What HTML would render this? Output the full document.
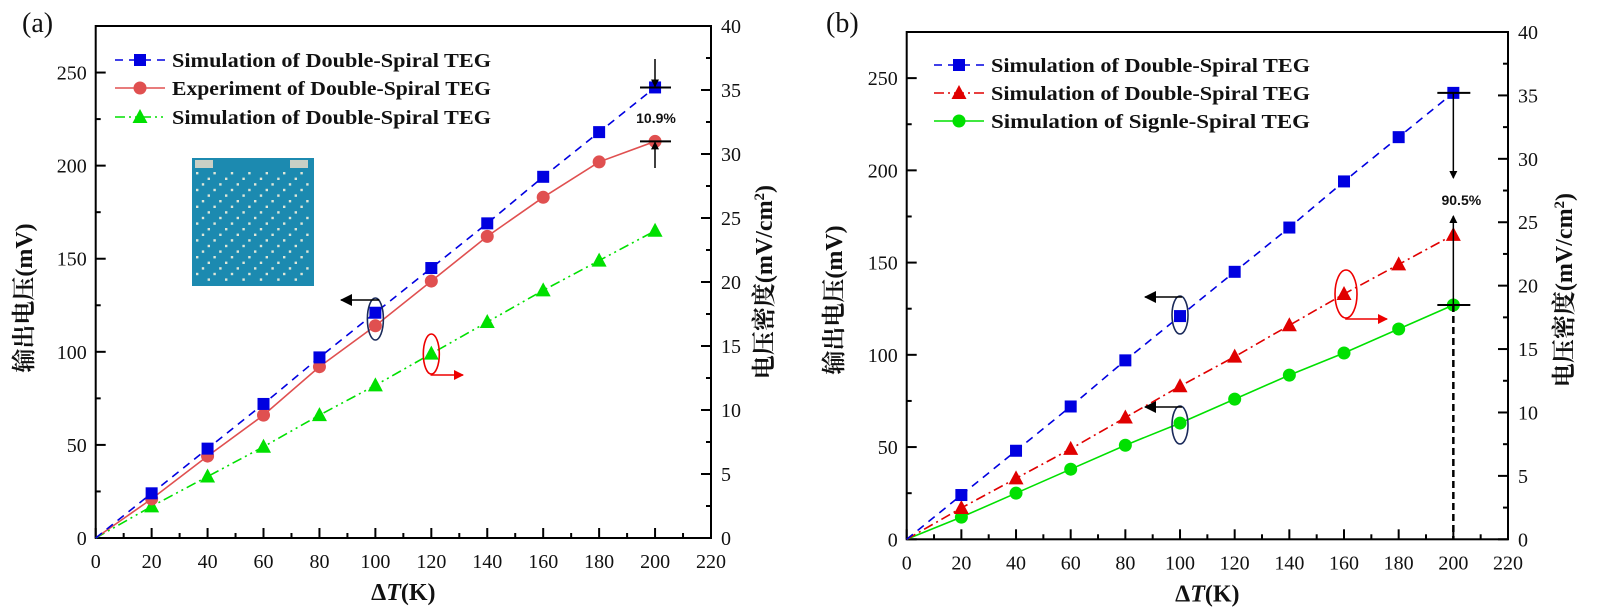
<!DOCTYPE html>
<html><head><meta charset="utf-8"><style>
body{margin:0;background:#fff;}
svg{display:block;}
.tk{font-family:"Liberation Serif",serif;font-size:20px;fill:#111;}
.lg{font-family:"Liberation Serif",serif;font-weight:bold;font-size:20px;fill:#111;}
.ttl{font-family:"Liberation Serif","Noto Serif CJK SC",serif;font-weight:bold;font-size:24px;fill:#111;}
.pct{font-family:"Liberation Sans",sans-serif;font-weight:bold;font-size:14px;fill:#111;}
</style></head><body>
<svg id="s" width="1600" height="613" viewBox="0 0 1600 613" xmlns="http://www.w3.org/2000/svg">
<defs>
<marker id="ah" markerWidth="8" markerHeight="8" refX="7" refY="4" orient="auto" markerUnits="userSpaceOnUse"><path d="M0,0 L8,4 L0,8 z" fill="#000"/></marker>
<marker id="ahr" markerWidth="10" markerHeight="10" refX="9" refY="5" orient="auto" markerUnits="userSpaceOnUse"><path d="M0,0 L10,5 L0,10 z" fill="#e00"/></marker>
<marker id="ahb" markerWidth="12" markerHeight="12" refX="11" refY="6" orient="auto" markerUnits="userSpaceOnUse"><path d="M0,0 L12,6 L0,12 z" fill="#000"/></marker>
</defs>
</svg>
<script>
const xTicks=[0,20,40,60,80,100,120,140,160,180,200,220];
const yTicksLeft=[0,50,100,150,200,250];
const yTicksRight=[0,5,10,15,20,25,30,35,40];
const xValues=[0,20,40,60,80,100,120,140,160,180,200];
const aSimDouble=[0,24,48,72,97,121,145,169,194,218,242];
const aExpDouble=[0,21,44,66,92,114,138,162,183,202,213];
const aSimTri=[0,17,33,49,66,82,99,116,133,149,165];
const bSimDouble=[0,24,48,72,97,121,145,169,194,218,242];
const bSimTri=[0,17,33,49,66,83,99,116,133,149,165];
const bSimSingle=[0,12,25,38,51,63,76,89,101,114,127];
const legendA=["Simulation of Double-Spiral TEG","Experiment of Double-Spiral TEG","Simulation of Double-Spiral TEG"];
const legendB=["Simulation of Double-Spiral TEG","Simulation of Double-Spiral TEG","Simulation of Signle-Spiral TEG"];

const svg=document.getElementById('s');
const NS='http://www.w3.org/2000/svg';
function el(tag,attrs,parent){const e=document.createElementNS(NS,tag);for(const k in attrs)e.setAttribute(k,attrs[k]);(parent||svg).appendChild(e);return e;}

function panel(P){
  const g=el('g',{});
  
  
  const X=v=>P.x0+(v-0)*(P.x1-P.x0)/220;
  const Y=v=>P.yb-(v)*(P.yb-P.yt)/275;
  const YR=v=>P.yb-(v)*(P.yb-P.yt)/40;
  P.X=X;P.Y=Y;
  const fr=el('rect',{x:P.x0,y:P.yt,width:P.x1-P.x0,height:P.yb-P.yt,fill:'none',stroke:'#000','stroke-width':2},g);
  
  
  for(let v=0;v<=220;v+=10){const major=v%20===0;el('line',{x1:X(v),x2:X(v),y1:P.yb,y2:P.yb-(major?10:5),stroke:'#000','stroke-width':2},g);}
  xTicks.forEach(v=>{const t=el('text',{x:X(v),y:P.yb+30,'text-anchor':'middle',class:'tk'},g);t.textContent=v;
    
    });
  for(let v=0;v<=275;v+=25){const major=v%50===0;el('line',{x1:P.x0,x2:P.x0+(major?10:5),y1:Y(v),y2:Y(v),stroke:'#000','stroke-width':2},g);}
  yTicksLeft.forEach(v=>{const t=el('text',{x:P.x0-9,y:Y(v)+7,'text-anchor':'end',class:'tk'},g);t.textContent=v;
    
    });
  for(let v=0;v<=40;v+=2.5){const major=v%5===0;el('line',{x1:P.x1,x2:P.x1-(major?10:5),y1:YR(v),y2:YR(v),stroke:'#000','stroke-width':2},g);}
  yTicksRight.forEach(v=>{const t=el('text',{x:P.x1+10,y:YR(v)+7,'text-anchor':'start',class:'tk'},g);t.textContent=v;
    
    });
  const xt=el('text',{x:(P.x0+P.x1)/2,y:P.yb+62,'text-anchor':'middle',class:'ttl'},g);
  xt.innerHTML='Δ<tspan font-style="italic">T</tspan>(K)';
  
  
  const yl=el('text',{x:0,y:0,'text-anchor':'middle',class:'ttl',transform:`translate(${P.ylx},${P.yly}) rotate(-90)`},g);
  yl.textContent='输出电压(mV)';
  
  
  const yr=el('text',{x:0,y:0,'text-anchor':'middle',class:'ttl',transform:`translate(${P.yrx},${P.yry}) rotate(-90)`},g);
  yr.innerHTML='电压密度(mV/cm<tspan dy="-8" font-size="15">2</tspan><tspan dy="8">)</tspan>';
  
  
  const lb=el('text',{x:P.lbx,y:32,class:'tk'},g);
  lb.style.fontSize='28px';
  lb.textContent=P.label;
  
  
  return g;
}

function series(P,g,vals,color,dash,shape,name){
  const pts=xValues.map((x,i)=>[P.X(x),P.Y(vals[i])]);
  const pl=el('polyline',{points:pts.map(p=>p.join(',')).join(' '),fill:'none',stroke:color,'stroke-width':1.6,'stroke-dasharray':dash},g);
  
  
  pts.forEach((p,i)=>{if(i===0)return;const m=marker(g,p[0],p[1],color,shape);
    
    });
}
function marker(g,x,y,color,shape){
  if(shape==='sq')return el('rect',{x:x-6,y:y-6,width:12,height:12,fill:color},g);
  if(shape==='ci')return el('circle',{cx:x,cy:y,r:6.5,fill:color},g);
  return el('path',{d:`M${x},${y-8} L${x+7.5},${y+6} L${x-7.5},${y+6} Z`,fill:color},g);
}
function legend(g,x,y,label,color,dash,shape){
  const l=el('line',{x1:x,x2:x+50,y1:y,y2:y,stroke:color,'stroke-width':1.6,'stroke-dasharray':dash},g);
  
  
  marker(g,x+25,y,color,shape);
  const t=el('text',{x:x+57,y:y+7,class:'lg',textLength:319,lengthAdjust:'spacingAndGlyphs'},g);
  t.textContent=label;
  
  
}

const A={name:'panel-a',x0:95.7,x1:711,yt:26,yb:538,ylx:32,yly:298,yrx:772,yry:282,lbx:22,label:'(a)'};
const ga=panel(A);
const ins=el('g',{},ga);


el('rect',{x:192,y:158,width:122,height:128,fill:'#1c8ab0'},ins);
el('rect',{x:195,y:160,width:18,height:8,fill:'#c9cfc5'},ins);
el('rect',{x:290,y:160,width:18,height:8,fill:'#c9cfc5'},ins);
for(let r=0;r<20;r++)for(let c=0;c<20;c++){ if((r+c)%3===0) el('rect',{x:196+c*5.8,y:172+r*5.6,width:2.4,height:2.4,fill:'#dfe6d8'},ins);}
const blueDash='8,6', greenDash='10,4,2,4,2,4';
series(A,ga,aSimTri,'#00e000',greenDash,'tr','a-sim-triangle');
series(A,ga,aExpDouble,'#e05050','','ci','a-exp-double');
series(A,ga,aSimDouble,'#0000e0',blueDash,'sq','a-sim-double');
legend(ga,115,60,legendA[0],'#0000e0',blueDash,'sq');
legend(ga,115,88,legendA[1],'#e05050','','ci');
legend(ga,115,117,legendA[2],'#00e000',greenDash,'tr');
el('line',{x1:640,x2:671,y1:A.Y(242),y2:A.Y(242),stroke:'#000','stroke-width':2},ga);
el('line',{x1:640,x2:671,y1:A.Y(213),y2:A.Y(213),stroke:'#000','stroke-width':2},ga);
el('line',{x1:655,x2:655,y1:59,y2:A.Y(242)-1,stroke:'#000','stroke-width':1.5,'marker-end':'url(#ah)'},ga);
el('line',{x1:655,x2:655,y1:168,y2:A.Y(213)+1,stroke:'#000','stroke-width':1.5,'marker-end':'url(#ah)'},ga);
const pa=el('text',{x:656,y:123,'text-anchor':'middle',class:'pct'},ga);pa.textContent='10.9%';


el('ellipse',{cx:A.X(100),cy:319,rx:8,ry:21,fill:'none',stroke:'#1a2a5a','stroke-width':1.6},ga);
el('polyline',{points:`${A.X(100)+3},299 ${A.X(100)+3},300 341,300`,fill:'none',stroke:'#000','stroke-width':1.6,'marker-end':'url(#ahb)'},ga);
el('ellipse',{cx:A.X(120),cy:354,rx:8,ry:20,fill:'none',stroke:'#e00','stroke-width':1.6},ga);
el('polyline',{points:`${A.X(120)},374 ${A.X(120)},375 463,375`,fill:'none',stroke:'#e00','stroke-width':1.6,'marker-end':'url(#ahr)'},ga);

const B={name:'panel-b',x0:906.7,x1:1508,yt:32,yb:539.3,ylx:842,yly:300,yrx:1572,yry:290,lbx:826,label:'(b)'};
const gb=panel(B);
series(B,gb,bSimSingle,'#00e000','','ci','b-sim-single');
series(B,gb,bSimTri,'#e00000','10,4,2,4','tr','b-sim-triangle');
series(B,gb,bSimDouble,'#0000e0',blueDash,'sq','b-sim-double');
legend(gb,934,65,legendB[0],'#0000e0',blueDash,'sq');
legend(gb,934,93,legendB[1],'#e00000','10,4,2,4','tr');
legend(gb,934,121,legendB[2],'#00e000','','ci');
const bx=B.X(200);
el('line',{x1:bx-16,x2:bx+17,y1:B.Y(242),y2:B.Y(242),stroke:'#000','stroke-width':2},gb);
el('line',{x1:bx-16,x2:bx+17,y1:B.Y(127),y2:B.Y(127),stroke:'#000','stroke-width':2},gb);
el('line',{x1:bx,x2:bx,y1:B.Y(242),y2:178,stroke:'#000','stroke-width':1.5,'marker-end':'url(#ah)'},gb);
el('line',{x1:bx,x2:bx,y1:B.Y(127),y2:216,stroke:'#000','stroke-width':1.5,'marker-end':'url(#ah)'},gb);
el('line',{x1:bx,x2:bx,y1:B.Y(127),y2:B.yb,stroke:'#000','stroke-width':2.5,'stroke-dasharray':'7,4'},gb);
const pb=el('text',{x:bx+8,y:205,'text-anchor':'middle',class:'pct'},gb);pb.textContent='90.5%';


el('ellipse',{cx:B.X(100),cy:315,rx:8,ry:19,fill:'none',stroke:'#1a2a5a','stroke-width':1.6},gb);
el('polyline',{points:`${B.X(100)+2},297 1145,297`,fill:'none',stroke:'#000','stroke-width':1.6,'marker-end':'url(#ahb)'},gb);
el('ellipse',{cx:B.X(100),cy:425,rx:8,ry:19,fill:'none',stroke:'#1a2a5a','stroke-width':1.6},gb);
el('polyline',{points:`${B.X(100)+2},407 1145,407`,fill:'none',stroke:'#000','stroke-width':1.6,'marker-end':'url(#ahb)'},gb);
el('ellipse',{cx:B.X(160)+2,cy:294,rx:11,ry:24,fill:'none',stroke:'#e00','stroke-width':1.6},gb);
el('polyline',{points:`${B.X(160)+2},318 ${B.X(160)+2},319 1387,319`,fill:'none',stroke:'#e00','stroke-width':1.6,'marker-end':'url(#ahr)'},gb);
</script>
</body></html>
